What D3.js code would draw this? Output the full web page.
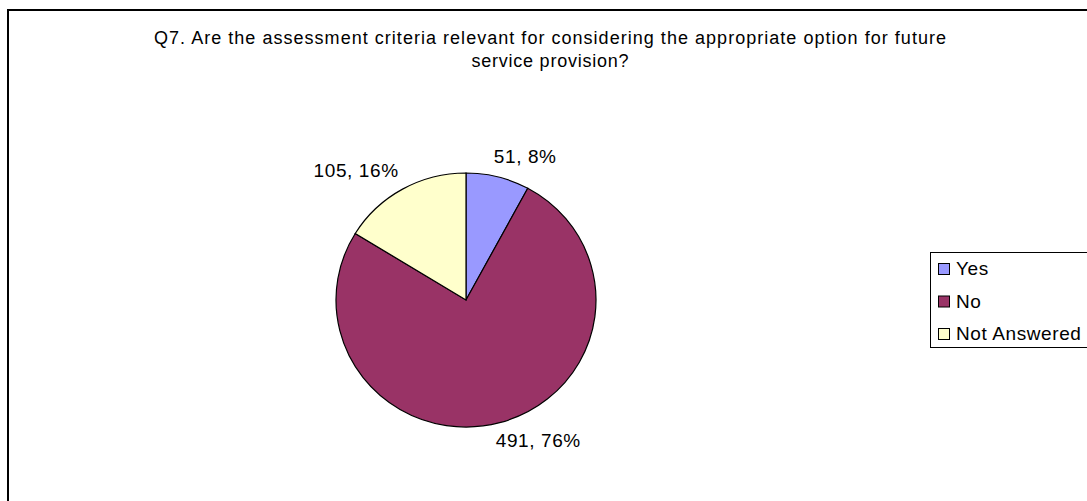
<!DOCTYPE html>
<html>
<head>
<meta charset="utf-8">
<script src="https://cdn.jsdelivr.net/npm/d3@7/dist/d3.min.js"></script>
<style>
  html, body { margin: 0; padding: 0; background: #fff; }
  svg { display: block; font-family: "Liberation Sans", Arial, sans-serif; }
</style>
</head>
<body>
<svg id="chart" width="1087" height="501"></svg>
<script>
// Survey responses for Q7
const categories = ["Yes", "No", "Not Answered"];
const counts = [51, 491, 105];
const percents = [8, 76, 16];
const sliceColors = ["#9999FF", "#993366", "#FFFFCC"];
const titleLines = [
  "Q7. Are the assessment criteria relevant for considering the appropriate option for future",
  "service provision?"
];

const svg = d3.select("#chart");
const W = 1087, H = 501;

// Outer chart frame (runs off the right and bottom of the page)
svg.append("rect")
  .attr("x", 8).attr("y", 10)
  .attr("width", W + 20).attr("height", H + 20)
  .attr("fill", "#fff")
  .attr("stroke", "#000")
  .attr("stroke-width", 2);

// Title, two centred lines
const titleWidths = [792, 157];
svg.append("g").selectAll("text")
  .data(titleLines)
  .join("text")
  .attr("x", 550)
  .attr("y", (d, i) => 44 + i * 23)
  .attr("text-anchor", "middle")
  .attr("font-size", 18)
  .attr("fill", "#000")
  .attr("textLength", (d, i) => titleWidths[i])
  .attr("lengthAdjust", "spacing")
  .text(d => d);

// Pie, drawn clockwise from 12 o'clock
const cx = 466, cy = 300, R = 130, yScale = 127 / 130;
const data = categories.map((c, i) => ({ cat: c, count: counts[i], pct: percents[i], color: sliceColors[i] }));

const pie = d3.pie().value(d => d.count).sort(null);
const arcs = pie(data);
const arc = d3.arc().innerRadius(0).outerRadius(R);

const pieG = svg.append("g")
  .attr("transform", `translate(${cx},${cy}) scale(1,${yScale})`);

pieG.selectAll("path")
  .data(arcs)
  .join("path")
  .attr("d", arc)
  .attr("fill", d => d.data.color)
  .attr("stroke", "#000")
  .attr("stroke-width", 1.2)
  .attr("vector-effect", "non-scaling-stroke");

// Outside-end data labels: the label's inner corner sits on the mid-angle ray
const labelR = 138;
svg.append("g").selectAll("text")
  .data(arcs)
  .join("text")
  .each(function(d) {
    const a = (d.startAngle + d.endAngle) / 2;
    const px = cx + labelR * Math.sin(a);
    const py = cy - labelR * Math.cos(a);
    const right = Math.sin(a) >= 0;
    const top = Math.cos(a) >= 0;
    d3.select(this)
      .attr("x", right ? px - 6 : px)
      .attr("y", top ? py - 3 : py + 14)
      .attr("text-anchor", right ? "start" : "end");
  })
  .attr("font-size", 19)
  .attr("letter-spacing", 0.6)
  .attr("fill", "#000")
  .text(d => `${d.data.count}, ${d.data.pct}%`);

// Legend
const lg = svg.append("g");
lg.append("rect")
  .attr("x", 930.5).attr("y", 252.5)
  .attr("width", 200).attr("height", 95)
  .attr("fill", "#fff")
  .attr("stroke", "#000")
  .attr("stroke-width", 1);

const items = lg.selectAll("g.item")
  .data(data)
  .join("g")
  .attr("class", "item")
  .attr("transform", (d, i) => `translate(0,${275 + i * 32.5})`);

items.append("rect")
  .attr("x", 938.5).attr("y", -11.5)
  .attr("width", 11).attr("height", 11)
  .attr("fill", d => d.color)
  .attr("stroke", "#000")
  .attr("stroke-width", 1);

items.append("text")
  .attr("x", 956).attr("y", 0)
  .attr("font-size", 19)
  .attr("letter-spacing", 0.6)
  .attr("fill", "#000")
  .text(d => d.cat);
</script>
</body>
</html>
